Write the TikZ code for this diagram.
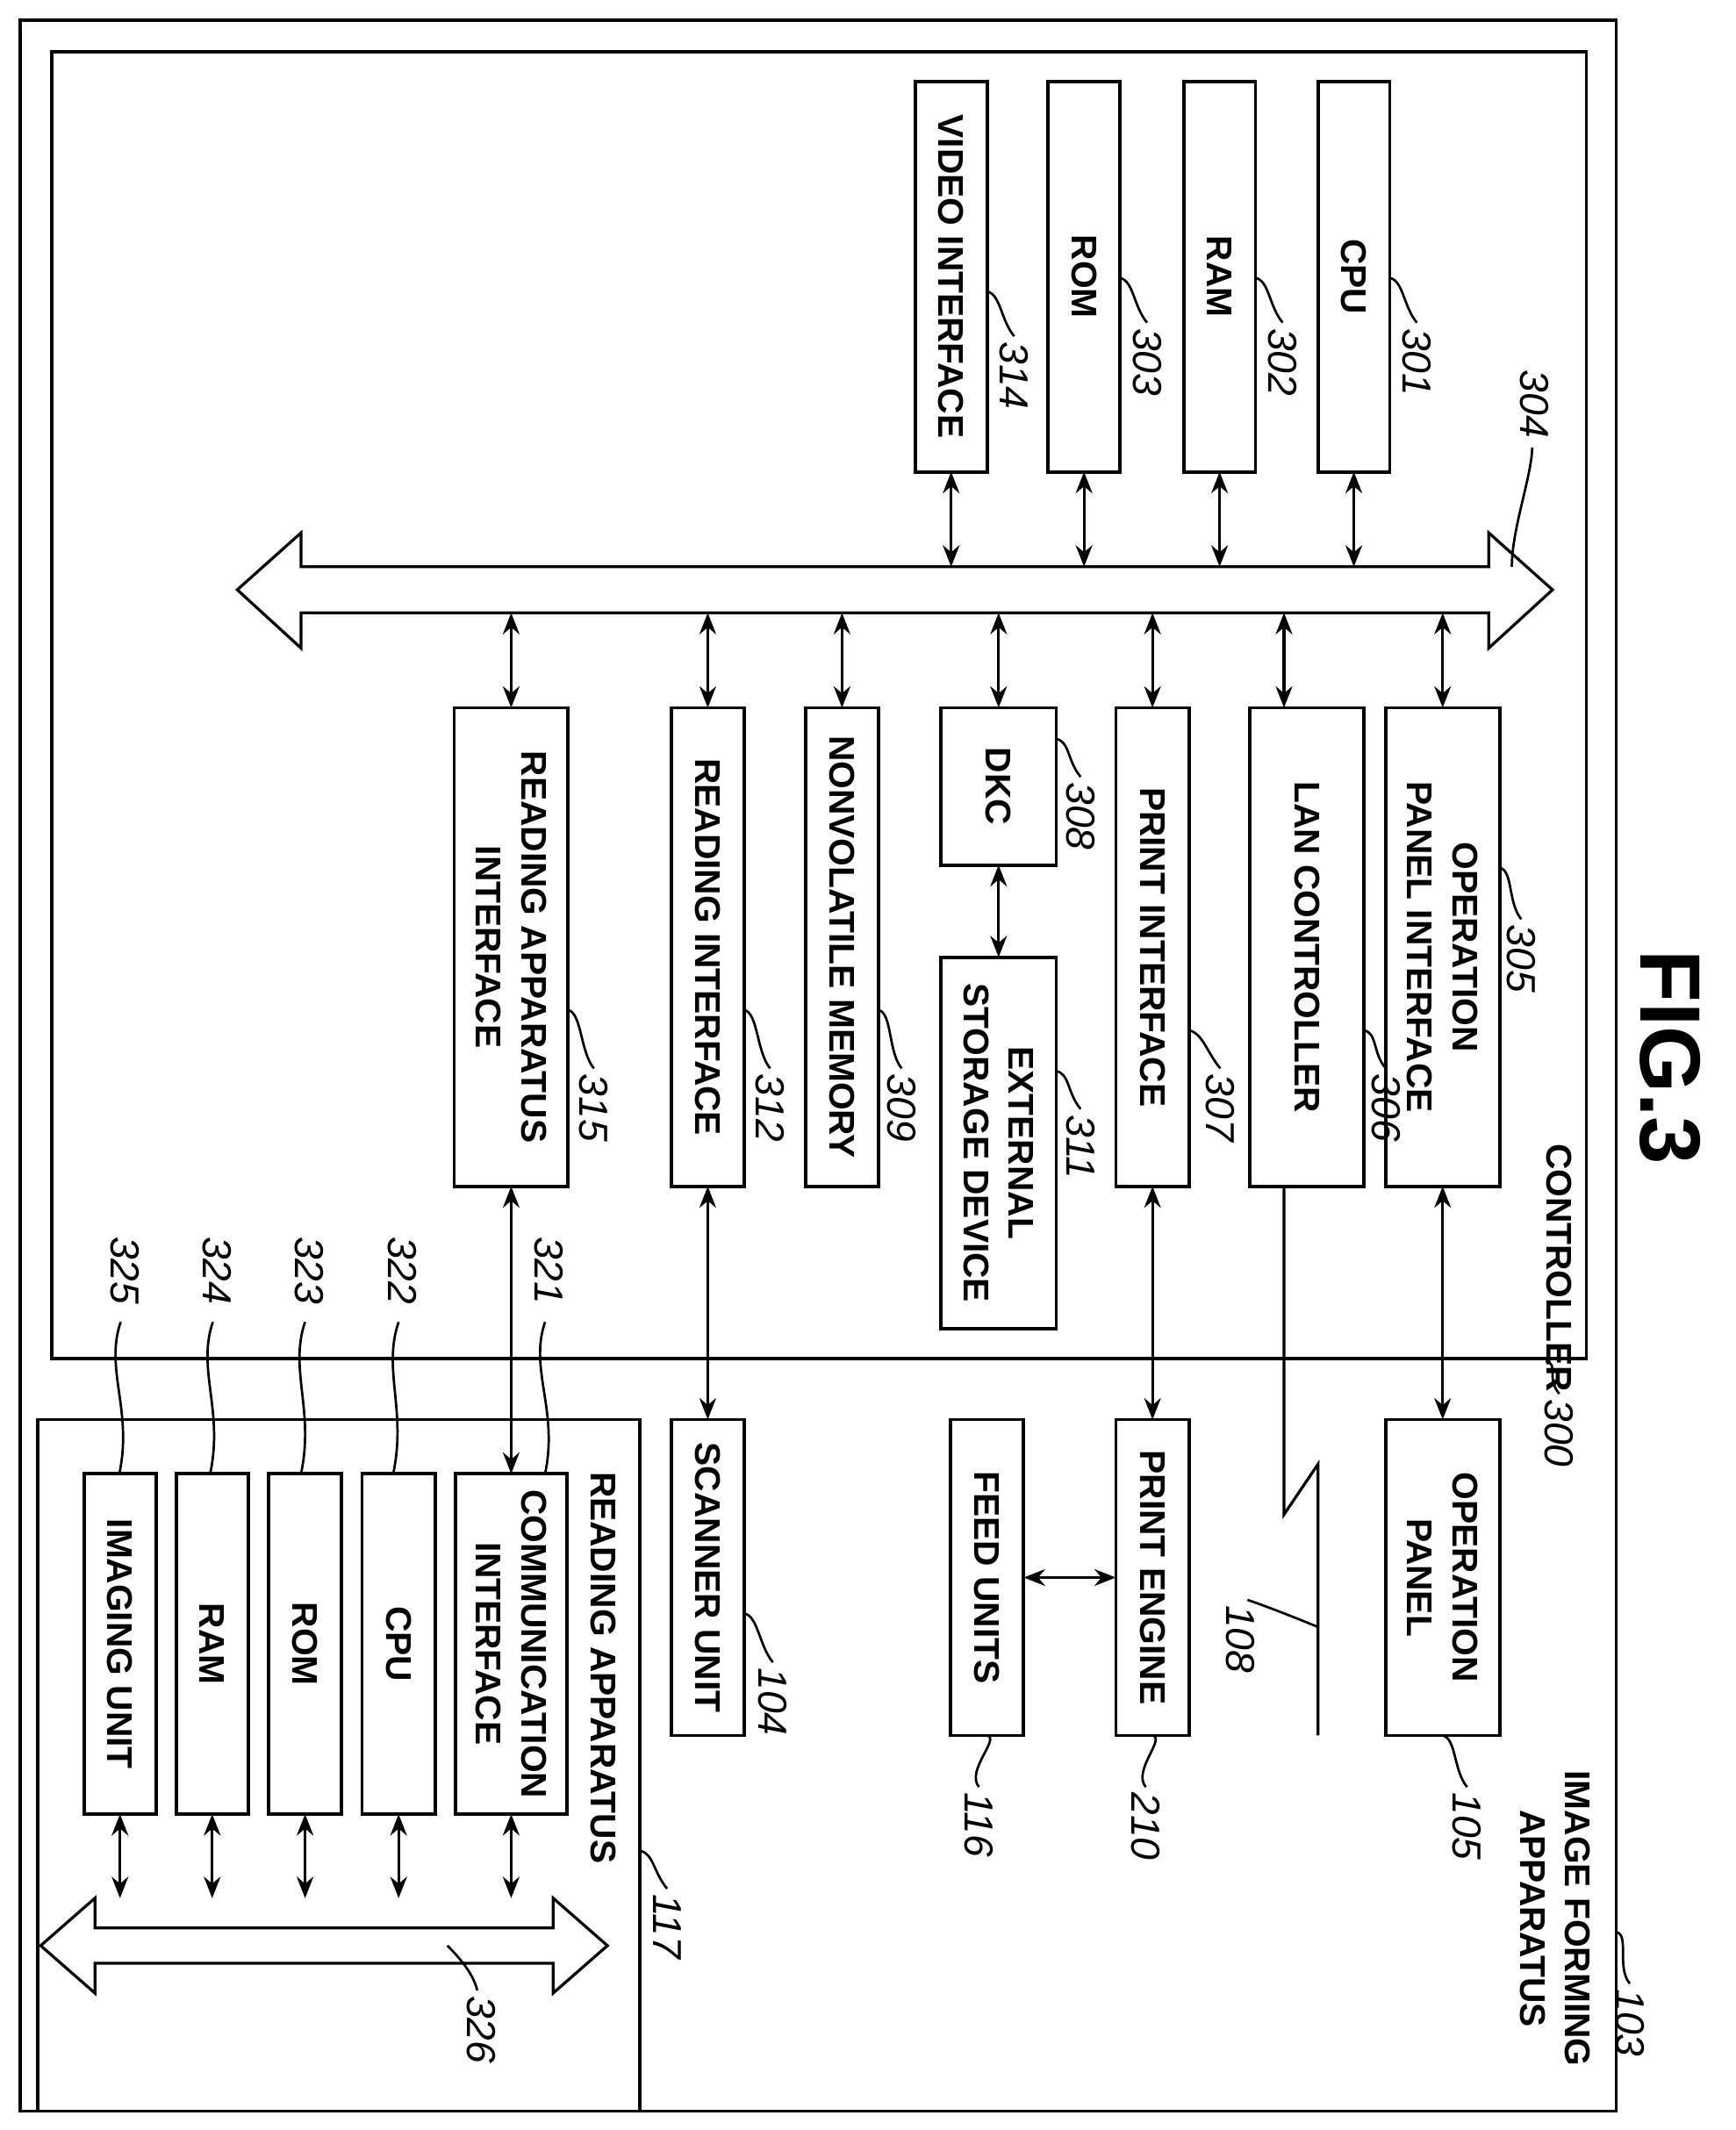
\documentclass[tikz,border=0pt]{standalone}
\usepackage{fontspec}
\setmainfont{Liberation Sans}
\usetikzlibrary{arrows.meta,calc}
\begin{document}
\begin{tikzpicture}[x=0.02cm,y=-0.02cm,
 box/.style={draw,line width=1.4pt,inner sep=0pt,outer sep=0pt},
 lab/.style={font=\fontsize{15}{19}\selectfont\bfseries,rotate=-90,align=center},
 num/.style={font=\fontsize{17}{19}\selectfont\itshape,rotate=-90,inner sep=1pt},
 dar/.style={line width=1.2pt,{Stealth[length=9pt,width=7pt]}-{Stealth[length=9pt,width=7pt]}},
 ln/.style={line width=1.2pt},
 sq/.style={line width=1pt}]
\useasboundingbox (0,0) rectangle (1280,1571);
\newcommand\bx[6]{\node[box,minimum width={(#4-#2)*0.02cm},minimum height={(#5-#3)*0.02cm}] (#1) at ({(#2+#4)/2},{(#3+#5)/2}) {};\node[lab] at (#1) {#6};}
\newcommand\nm[5]{\draw[sq] (#1,#2) .. controls ({#1+10},{#2+2}) and ({#3-10},{#4-14}) .. (#3,{#4-2});\node[num,anchor=west] at (#3,#4) {#5};}
% frames
\node[box,minimum width={1177*0.02cm},minimum height={1542*0.02cm}] (f103) at (603.5,786) {};
\node[box,minimum width={1132*0.02cm},minimum height={964*0.02cm}] (f300) at (604,520) {};
\node[box,minimum width={444*0.02cm},minimum height={510*0.02cm}] (f117) at (250,1302) {};
\node[font=\fontsize{36}{40}\selectfont\bfseries,rotate=-90] (fig) at (1232,780) {FIG.3};
\node[lab] (tc) at (1150,935) {CONTROLLER};
\node[lab] (tifa) at (1147,1415) {IMAGE FORMING\\APPARATUS};
\node[lab] (tra) at (445,1230) {READING APPARATUS};
% top boxes
\bx{cpu}{972}{60}{1025}{348}{CPU}
\bx{ram}{873}{60}{926}{348}{RAM}
\bx{rom}{773}{60}{826}{348}{ROM}
\bx{vif}{675}{60}{728}{348}{VIDEO INTERFACE}
% bus 304
\draw[line width=1.2pt,fill=white] (175,435)--(222,393)--(222,418)--(1098,418)--(1098,393)--(1145,435)--(1098,478)--(1098,452)--(222,452)--(222,478)--cycle;
\coordinate (bt) at (0,418); \coordinate (bb) at (0,452);
\foreach \b in {cpu,ram,rom,vif}{\draw[dar] (\b.south)--(\b.south |- bt);}
% lower boxes
\bx{opif}{1022}{522}{1106}{875}{OPERATION\\PANEL INTERFACE}
\bx{lan}{922}{522}{1006}{875}{LAN CONTROLLER}
\bx{pif}{823}{522}{877}{875}{PRINT INTERFACE}
\bx{dkc}{694}{522}{779}{638}{DKC}
\bx{ext}{694}{706}{779}{980}{EXTERNAL\\STORAGE DEVICE}
\bx{nvm}{594}{522}{648}{875}{NONVOLATILE MEMORY}
\bx{rif}{495}{522}{549}{875}{READING INTERFACE}
\bx{raif}{335}{522}{419}{875}{READING APPARATUS\\INTERFACE}
\coordinate (lx) at (947,0);
\foreach \b in {opif,pif,dkc,nvm,rif,raif}{\draw[dar] (\b.north |- bb)--(\b.north);}
\draw[dar] (lx |- bb)--(lx |- lan.north);
\draw[dar] (dkc.south)--(ext.north);
% right column
\bx{op}{1022}{1047}{1106}{1280}{OPERATION\\PANEL}
\bx{pe}{823}{1047}{877}{1280}{PRINT ENGINE}
\bx{fu}{701}{1047}{755}{1280}{FEED UNITS}
\bx{sc}{495}{1047}{549}{1280}{SCANNER UNIT}
\draw[dar] (opif.south)--(op.north);
\draw[dar] (pif.south)--(pe.north);
\draw[dar] (rif.south)--(sc.north);
\draw[dar] (fu.east)--(pe.west);
\coordinate (z1) at (947,1117); \coordinate (z2) at (972,1080); \coordinate (z3) at (972,1280);
\draw[ln] (lx |- lan.south)--(z1)--(z2)--(z3);
% reading apparatus
\bx{ci}{336}{1087}{418}{1338}{COMMUNICATION\\INTERFACE}
\bx{rcpu}{267}{1087}{321}{1338}{CPU}
\bx{rrom}{198}{1087}{252}{1338}{ROM}
\bx{rram}{130}{1087}{183}{1338}{RAM}
\bx{img}{62}{1087}{115}{1338}{IMAGING UNIT}
\draw[dar] (raif.south)--(ci.north);
\draw[line width=1.2pt,fill=white] (30,1435)--(70,1400)--(70,1422)--(408,1422)--(408,1400)--(448,1435)--(408,1470)--(408,1448)--(70,1448)--(70,1470)--cycle;
\coordinate (rb) at (0,1400);
\foreach \b in {ci,rcpu,rrom,rram,img}{\draw[dar] (\b.south)--(\b.south |- rb);}
% number labels
\nm{1025}{205}{1045}{240}{301}
\nm{926}{205}{946}{240}{302}
\nm{826}{205}{846}{240}{303}
\nm{728}{215}{748}{250}{314}
\nm{1106}{640}{1122}{680}{305}
\nm{1006}{760}{1022}{790}{306}
\nm{877}{760}{900}{790}{307}
\nm{779}{545}{797}{575}{308}
\nm{779}{790}{797}{820}{311}
\nm{648}{745}{665}{790}{309}
\nm{549}{745}{568}{790}{312}
\nm{419}{745}{438}{790}{315}
\nm{549}{1190}{570}{1228}{104}
\nm{1064}{1280}{1082}{1320}{105}
\nm{850}{1280}{845}{1320}{210}
\nm{728}{1280}{722}{1320}{116}
\nm{472}{1365}{492}{1395}{117}
\nm{1140}{1004}{1150}{1030}{300}
\nm{1192}{1425}{1202}{1465}{103}
\draw[sq] (1115,418) .. controls (1115,390) and (1130,350) .. (1130,330);
\node[num,anchor=east] at (1132,325) {304};
\draw[sq] (972,1200) .. controls (960,1195) and (935,1185) .. (920,1180);
\node[num,anchor=west] at (915,1182) {108};
\draw[sq] (330,1435) .. controls (345,1450) and (350,1460) .. (352,1468);
\node[num,anchor=west] at (355,1470) {326};
% 321-325 leaders
\foreach \x/\t/\n in {405/402/321,297/290/322,228/222/323,160/155/324,92/88/325}{
 \node[num,anchor=west] at (\x,910) {\n};
 \draw[sq] (\x-3,975) .. controls (\x-15,1010) and (\t+10,1040) .. (\t,1087);}
\end{tikzpicture}
\end{document}
